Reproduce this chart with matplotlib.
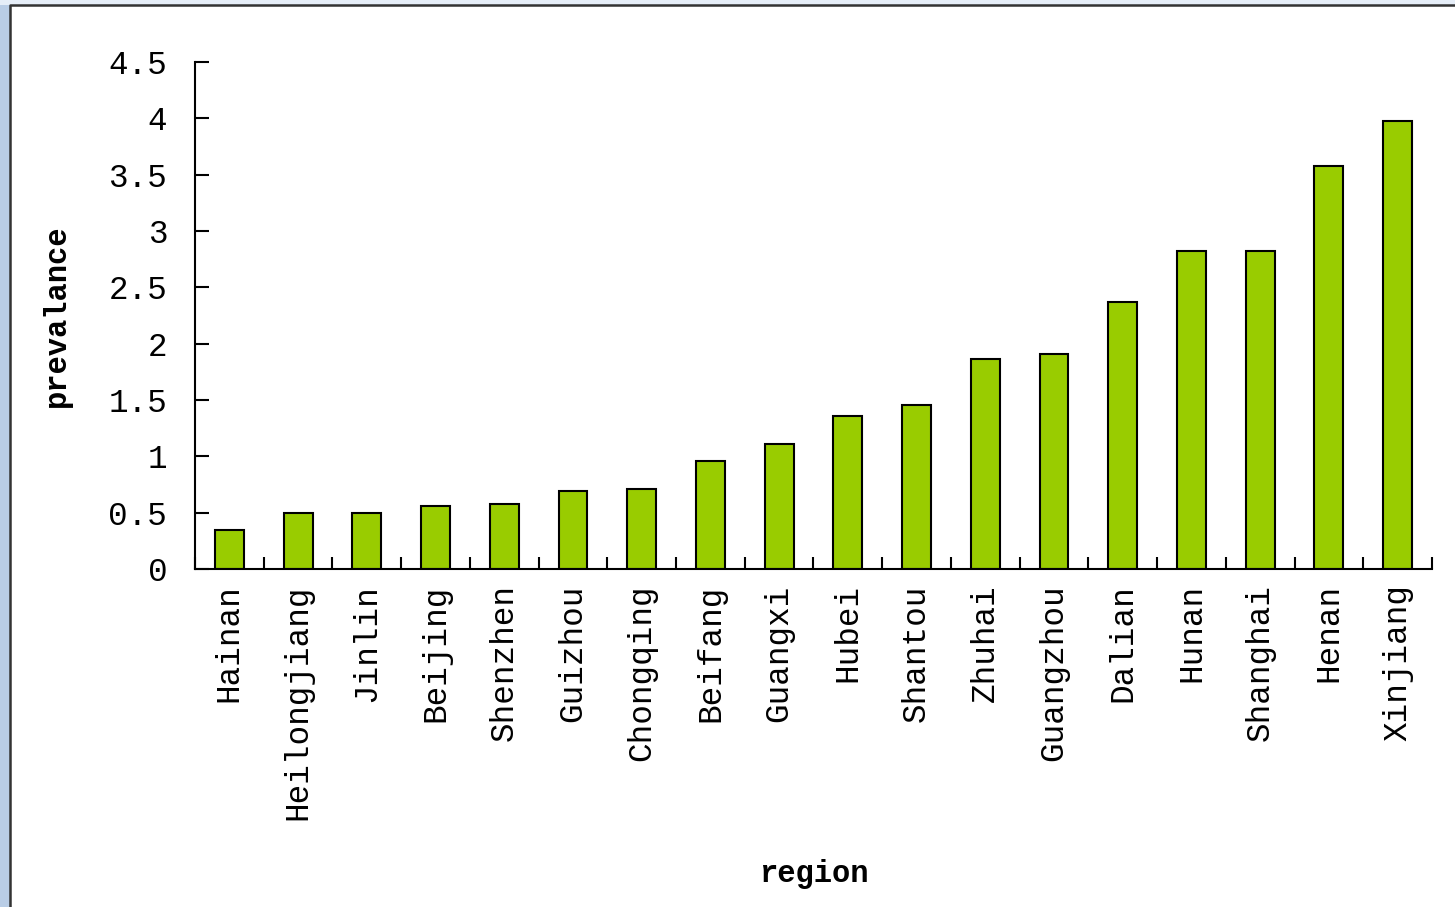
import numpy as np
import matplotlib.pyplot as plt
from matplotlib.patches import Rectangle
from matplotlib.lines import Line2D

# data
regions = ['Hainan', 'Heilongjiang', 'Jinlin', 'Beijing', 'Shenzhen', 'Guizhou',
           'Chongqing', 'Beifang', 'Guangxi', 'Hubei', 'Shantou', 'Zhuhai',
           'Guangzhou', 'Dalian', 'Hunan', 'Shanghai', 'Henan', 'Xinjiang']
prevalance = [0.35, 0.50, 0.50, 0.56, 0.58, 0.69, 0.71, 0.96, 1.11, 1.36,
              1.46, 1.86, 1.91, 2.37, 2.82, 2.82, 3.58, 3.98]
yticks = [0, 0.5, 1, 1.5, 2, 2.5, 3, 3.5, 4, 4.5]
ytick_labels = ['0', '0.5', '1', '1.5', '2', '2.5', '3', '3.5', '4', '4.5']

plt.rcParams['font.family'] = ['Liberation Mono', 'DejaVu Sans Mono']

W, H = 1455, 907
fig = plt.figure(figsize=(W / 100, H / 100), dpi=100)

# slide background strip and chart frame
fig.patches.append(Rectangle((0, 0), 10 / W, 1, transform=fig.transFigure,
                             facecolor='#b9cde6', edgecolor='none', zorder=0))
fig.patches.append(Rectangle((0, 1 - 5 / H), 1, 5 / H, transform=fig.transFigure,
                             facecolor='#e6eef8', edgecolor='none', zorder=0))
fig.lines.append(Line2D([10 / W, 10 / W, 1], [0, 1 - 5 / H, 1 - 5 / H],
                        transform=fig.transFigure, color='#333333', lw=1.8))

ax = fig.add_axes([195 / W, 1 - 569 / H, (1432 - 195) / W, (569 - 62) / H])

x = np.arange(len(regions))
ax.bar(x, prevalance, width=0.42, color='#99cc00', edgecolor='black', linewidth=1.5)

ax.set_xlim(-0.5, len(regions) - 0.5)
ax.set_ylim(0, 4.5)
ax.set_yticks(yticks)
ax.set_yticklabels(ytick_labels)
ax.set_xticks(x)
ax.set_xticklabels(regions, rotation=90)
ax.set_xticks(np.arange(len(regions) + 1) - 0.5, minor=True)

ax.tick_params(axis='y', direction='in', length=10, width=1.5, pad=20, labelsize=23.5)
ax.tick_params(axis='x', which='major', length=0, pad=11, labelsize=23.5)
ax.tick_params(axis='x', which='minor', direction='in', length=9, width=1.5)

for s in ['top', 'right']:
    ax.spines[s].set_visible(False)
for s in ['left', 'bottom']:
    ax.spines[s].set_linewidth(1.5)

ax.set_ylabel('prevalance', fontsize=22, fontweight='bold', labelpad=26)
ax.set_xlabel('region', fontsize=22, fontweight='bold', labelpad=28)

fig.savefig('out.png', dpi=100)
